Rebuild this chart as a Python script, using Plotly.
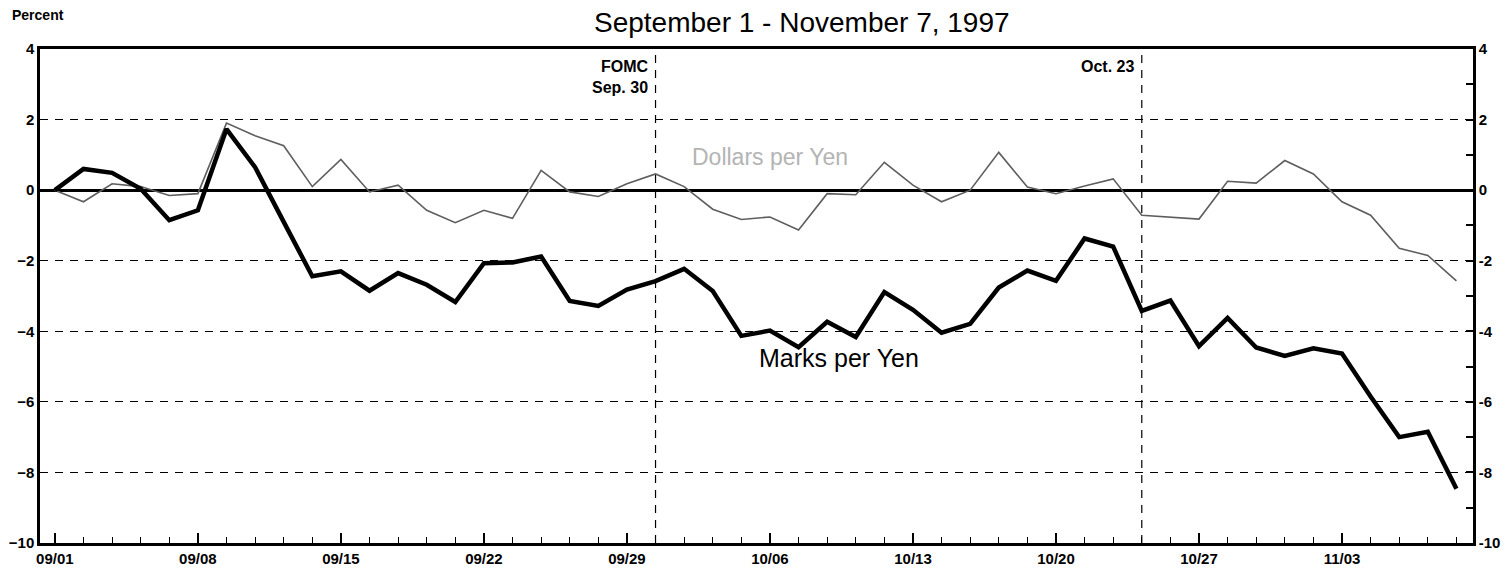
import plotly.graph_objects as go

### DATA ###
# business days 09/01/1997 .. 11/07/1997, one point per day (index 0..49)
day_index = list(range(50))
tick_pos = [0, 5, 10, 15, 20, 25, 30, 35, 40, 45]
tick_labels = ['09/01', '09/08', '09/15', '09/22', '09/29',
               '10/06', '10/13', '10/20', '10/27', '11/03']

# percent change since Sep 1
marks_per_yen = [0.0, 0.6, 0.49, 0.04, -0.85, -0.57, 1.73, 0.65, -0.9, -2.44,
                 -2.3, -2.85, -2.35, -2.68, -3.17, -2.07, -2.05, -1.88, -3.14, -3.28,
                 -2.82, -2.58, -2.23, -2.86, -4.13, -3.98, -4.45, -3.73, -4.16, -2.89,
                 -3.39, -4.04, -3.79, -2.76, -2.28, -2.57, -1.37, -1.6, -3.42, -3.13,
                 -4.42, -3.62, -4.46, -4.7, -4.48, -4.63, -5.85, -7.0, -6.85, -8.46]
dollars_per_yen = [0.0, -0.33, 0.18, 0.1, -0.15, -0.1, 1.9, 1.54, 1.26, 0.1,
                   0.87, -0.05, 0.14, -0.57, -0.92, -0.57, -0.8, 0.56, -0.05, -0.18,
                   0.18, 0.46, 0.1, -0.54, -0.83, -0.76, -1.13, -0.1, -0.13, 0.79,
                   0.14, -0.33, 0.0, 1.07, 0.09, -0.1, 0.12, 0.32, -0.71, -0.76,
                   -0.82, 0.25, 0.2, 0.84, 0.46, -0.33, -0.71, -1.65, -1.85, -2.57]

# event markers: FOMC Sep. 30 and Oct. 23
event_x = [21, 38]
event_text = ['FOMC<br>Sep. 30', 'Oct. 23']

y_vals = list(range(-10, 5))
y_text = [str(v) if v % 2 == 0 else '' for v in y_vals]

FONT = 'Arial, Liberation Sans, sans-serif'

fig = go.Figure()

fig.add_trace(go.Scatter(x=day_index, y=dollars_per_yen, mode='lines',
                         line=dict(color='#5e5e5e', width=1.6),
                         showlegend=False))
fig.add_trace(go.Scatter(x=day_index, y=marks_per_yen, mode='lines',
                         line=dict(color='black', width=4.5),
                         showlegend=False))
# dummy trace to bring up the right-hand axis
fig.add_trace(go.Scatter(x=[day_index[0]], y=[0], yaxis='y2', mode='markers',
                         marker=dict(opacity=0), showlegend=False, hoverinfo='skip'))

for xv, txt in zip(event_x, event_text):
    fig.add_shape(type='line', xref='x', yref='paper', x0=xv, x1=xv, y0=0, y1=1,
                  line=dict(color='black', width=1.2, dash='8px,7px'))
    fig.add_annotation(x=xv, y=1, xref='x', yref='paper', text='<b>' + txt + '</b>',
                       showarrow=False, xanchor='right', yanchor='top',
                       align='right', xshift=-6, yshift=-7,
                       font=dict(family=FONT, size=16, color='black'))

fig.add_annotation(x=25, y=0.94, text='Dollars per Yen', showarrow=False,
                   font=dict(family=FONT, size=23, color='#b4b4b4'))
fig.add_annotation(x=27.4, y=-4.77, text='Marks per Yen', showarrow=False,
                   font=dict(family=FONT, size=25, color='black'))

fig.add_annotation(x=0.532, y=1, xref='paper', yref='paper', yanchor='bottom',
                   text='September 1 - November 7, 1997', showarrow=False, yshift=9,
                   font=dict(family=FONT, size=28, color='black'))
fig.add_annotation(x=-0.021, y=1, xref='paper', yref='paper', xanchor='left',
                   yanchor='bottom', text='<b>Percent</b>', showarrow=False, yshift=24,
                   font=dict(family=FONT, size=14, color='black'))

# page body keeps an 8px margin, so the figure is 8px smaller on each side
fig.update_layout(
    width=1504, height=562,
    margin=dict(l=32, r=39, t=41, b=27, autoexpand=False),
    plot_bgcolor='white', paper_bgcolor='white',
    xaxis=dict(range=[-0.52, 49.58], tickmode='array', tickvals=tick_pos,
               ticktext=tick_labels, ticks='inside', ticklen=10, tickwidth=1.5,
               tickcolor='black', showgrid=False, zeroline=False, automargin=False,
               showline=True, linecolor='black', linewidth=3, mirror=True,
               minor=dict(dtick=1, tick0=0, ticks='inside', ticklen=6,
                          tickcolor='black', tickwidth=1.2, showgrid=False),
               tickfont=dict(family=FONT, size=15, color='black', weight='bold')),
    yaxis=dict(range=[-10, 4], tickmode='array', tickvals=list(range(-10, 5, 2)),
               ticks='', showgrid=True, gridcolor='black', gridwidth=1.2,
               griddash='8px,7px', zeroline=True, zerolinecolor='black',
               zerolinewidth=3, showline=True, linecolor='black', linewidth=2.5,
               automargin=False,
               tickfont=dict(family=FONT, size=15, color='black', weight='bold')),
    yaxis2=dict(range=[-10, 4], overlaying='y', side='right', tickmode='array',
                tickvals=y_vals, ticktext=y_text, ticks='inside', ticklen=7,
                tickcolor='black', tickwidth=1.5, showgrid=False, zeroline=False,
                showline=True, linecolor='black', linewidth=2.5, automargin=False,
                tickfont=dict(family=FONT, size=15, color='black', weight='bold')),
)

fig.write_html("out.html")
